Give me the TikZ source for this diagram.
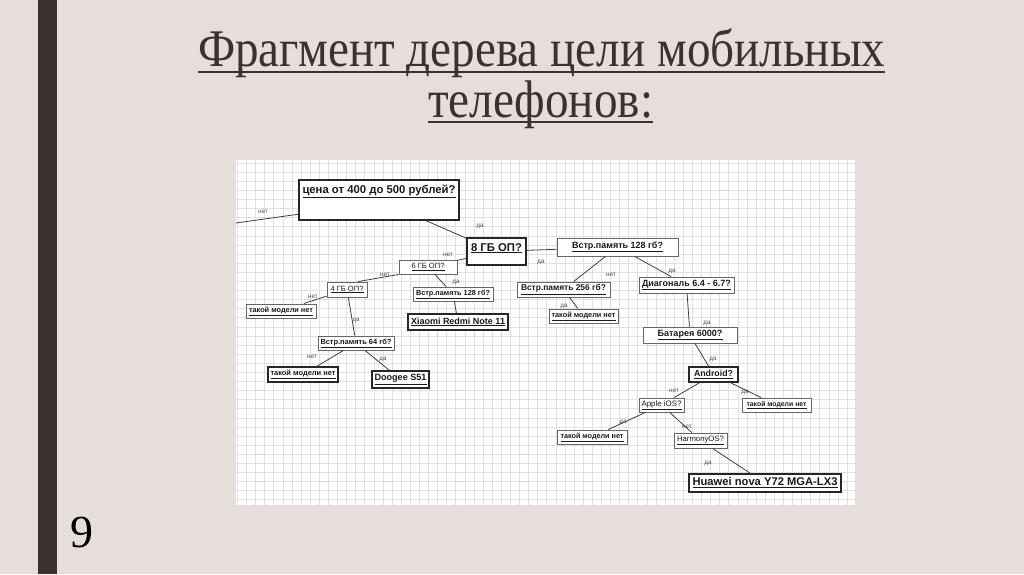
\documentclass[tikz,border=0pt]{standalone}
\usepackage{fontspec}
\setmainfont{Liberation Serif}
\newfontfamily\boxfont{Liberation Sans}
\usetikzlibrary{calc}
\definecolor{bgc}{RGB}{229,222,218}
\definecolor{barc}{RGB}{58,50,45}
\definecolor{gridc}{RGB}{224,224,224}
\definecolor{boxtext}{RGB}{25,25,25}
\definecolor{lblc}{RGB}{80,80,80}
\newcommand\fitw[2]{\resizebox{#1pt}{!}{#2}}
\begin{document}
\begin{tikzpicture}[x={(1pt,0)},y={(0,-1pt)},
  boxn/.style={draw=black!60, line width=0.9pt, fill=white, inner sep=0pt, font=\boxfont, text=boxtext},
  boxk/.style={boxn, draw=black!85, line width=1.4pt},
  lbl/.style={font=\boxfont\fontsize{6.3}{7}\selectfont, text=lblc, inner sep=0pt},
  conn/.style={draw=black!75, line width=0.8pt},
  titletext/.style={anchor=base west, inner sep=0pt, text=barc}]
\useasboundingbox (0,0) rectangle (1024,574);
\fill[bgc] (0,0) rectangle (1024,574);
\fill[barc] (38,0) rectangle (57,574);

% title
\node[titletext] (t1) at (198,66) {\resizebox{687pt}{1.08\height}{\fontsize{49}{50}\selectfont Фрагмент дерева цели мобильных}};
\node[titletext] (t2) at (428,117) {\resizebox{225pt}{1.08\height}{\fontsize{49}{50}\selectfont телефонов:}};
\draw[barc, line width=2pt] ([yshift=-5.5pt]t1.base west) -- ([yshift=-5.5pt]t1.base east);
\draw[barc, line width=2pt] ([yshift=-5pt]t2.base west) -- ([yshift=-5pt]t2.base east);

% page number
\node[anchor=base west, inner sep=0pt, font=\fontsize{46}{46}\selectfont] (pn) at (70,547) {9};

% panel and grid
\fill[white] (236,160) rectangle (855,505);
\foreach \i in {0,...,67} {\draw[gridc, line width=0.6pt] (237.3+\i*9.1,160) -- (237.3+\i*9.1,505);}
\foreach \j in {0,...,37} {\draw[gridc, line width=0.6pt] (236,163+\j*9.1) -- (855,163+\j*9.1);}

% nodes
\node[boxk, minimum width=160pt, minimum height=40pt] (q1) at (379,200) {};
\node[inner sep=0pt, anchor=base, font=\boxfont, text=boxtext] (q1t) at (379,193) {\fitw{153}{\bfseries\underline{цена от 400 до 500 рублей?}}};
\node[boxk, minimum width=59pt, minimum height=27pt] (n8) at (496.5,251.5) {};
\node[inner sep=0pt, anchor=base, font=\boxfont, text=boxtext] (n8t) at (496.5,251) {\fitw{51}{\bfseries\underline{8 ГБ ОП?}}};

\node[boxn, minimum width=58pt, minimum height=14pt] (g6) at (428,267) {\fitw{33}{\underline{6 ГБ ОП?}}};
\node[boxn, minimum width=40pt, minimum height=15pt] (g4) at (347,289.5) {\fitw{33}{\underline{4 ГБ ОП?}}};
\node[boxn, minimum width=80pt, minimum height=14pt] (v128s) at (453,294) {\fitw{74}{\bfseries\underline{Встр.память 128 гб?}}};
\node[boxk, minimum width=100pt, minimum height=16pt] (xi) at (458,322) {\fitw{94}{\bfseries\underline{Xiaomi Redmi Note 11}}};
\node[boxn, minimum width=70pt, minimum height=14pt] (na) at (281,311) {\fitw{64}{\bfseries\underline{такой модели нет}}};
\node[boxn, minimum width=76pt, minimum height=14pt] (v64) at (356,343) {\fitw{71}{\bfseries\underline{Встр.память 64 гб?}}};
\node[boxk, minimum width=70pt, minimum height=15pt] (nb) at (303,374.5) {\fitw{65}{\bfseries\underline{такой модели нет}}};
\node[boxk, minimum width=57pt, minimum height=17pt] (dg) at (400.5,379.5) {\fitw{52}{\bfseries\underline{Doogee S51}}};

\node[boxn, minimum width=121pt, minimum height=18pt] (v128) at (617.5,247) {\fitw{91}{\bfseries\underline{Встр.память 128 гб?}}};
\node[boxn, minimum width=93pt, minimum height=15pt] (v256) at (563.5,289.5) {\fitw{85}{\bfseries\underline{Встр.память 256 гб?}}};
\node[boxn, minimum width=95pt, minimum height=16pt] (dia) at (686.5,285) {\fitw{89}{\bfseries\underline{Диагональ 6.4 - 6.7?}}};
\node[boxn, minimum width=69pt, minimum height=14pt] (nc) at (583.5,316) {\fitw{64}{\bfseries\underline{такой модели нет}}};
\node[boxn, minimum width=94pt, minimum height=16pt] (bat) at (690,335) {\fitw{65}{\bfseries\underline{Батарея 6000?}}};
\node[boxk, minimum width=49pt, minimum height=15pt] (an) at (713.5,374.5) {\fitw{39}{\bfseries\underline{Android?}}};
\node[boxn, minimum width=45pt, minimum height=14pt] (ap) at (661.5,405) {\fitw{40}{\underline{Apple iOS?}}};
\node[boxn, minimum width=69pt, minimum height=14pt] (nd) at (776.5,405) {\fitw{60}{\bfseries\underline{такой модели нет}}};
\node[boxn, minimum width=70pt, minimum height=14pt] (ne) at (592,437) {\fitw{63}{\bfseries\underline{такой модели нет}}};
\node[boxn, minimum width=53pt, minimum height=15pt] (hm) at (700.5,440.5) {\fitw{47}{\underline{HarmonyOS?}}};
\node[boxk, minimum width=152pt, minimum height=18pt] (hu) at (765,483) {\fitw{145}{\bfseries\underline{Huawei nova Y72 MGA-LX3}}};

% connectors
\coordinate (lend) at (236,223);
\draw[conn] (q1.190) -- (lend);
\draw[conn] (q1) -- (n8);
\draw[conn] (n8) -- (g6);
\draw[conn] (n8) -- (v128);
\draw[conn] (g6.south west) -- ($(g4.north)!0.55!(g4.north east)$);
\draw[conn] (g6) -- (v128s);
\draw[conn] (v128s) -- (xi);
\draw[conn] (g4) -- (na);
\draw[conn] (g4) -- (v64);
\draw[conn] (v64) -- (nb);
\draw[conn] (v64) -- (dg);
\draw[conn] (v128) -- (v256);
\draw[conn] (v128) -- (dia);
\draw[conn] (v256) -- (nc);
\draw[conn] (dia) -- (bat);
\draw[conn] (bat) -- (an);
\draw[conn] (an) -- (ap);
\draw[conn] (an) -- (nd);
\draw[conn] (ap) -- (ne);
\draw[conn] (ap) -- (hm);
\draw[conn] (hm) -- (hu);

% labels
\node[lbl] (l1) at (263,212) {нет};
\node[lbl] (l2) at (480,226) {да};
\node[lbl] (l3) at (448,255) {нет};
\node[lbl] (l4) at (541,262) {да};
\node[lbl] (l5) at (385,275) {нет};
\node[lbl] (l6) at (456,282) {да};
\node[lbl] (l7) at (313,297) {нет};
\node[lbl] (l8) at (356,320) {да};
\node[lbl] (l9) at (312,357) {нет};
\node[lbl] (l10) at (383,359) {да};
\node[lbl] (l11) at (611,275) {нет};
\node[lbl] (l12) at (672,271) {да};
\node[lbl] (l13) at (564,306) {да};
\node[lbl] (l14) at (707,323) {да};
\node[lbl] (l15) at (713,359) {да};
\node[lbl] (l16) at (674,391) {нет};
\node[lbl] (l17) at (745,392) {да};
\node[lbl] (l18) at (623,422) {да};
\node[lbl] (l19) at (687,427) {нет};
\node[lbl] (l20) at (708,463) {да};
\end{tikzpicture}
\end{document}
